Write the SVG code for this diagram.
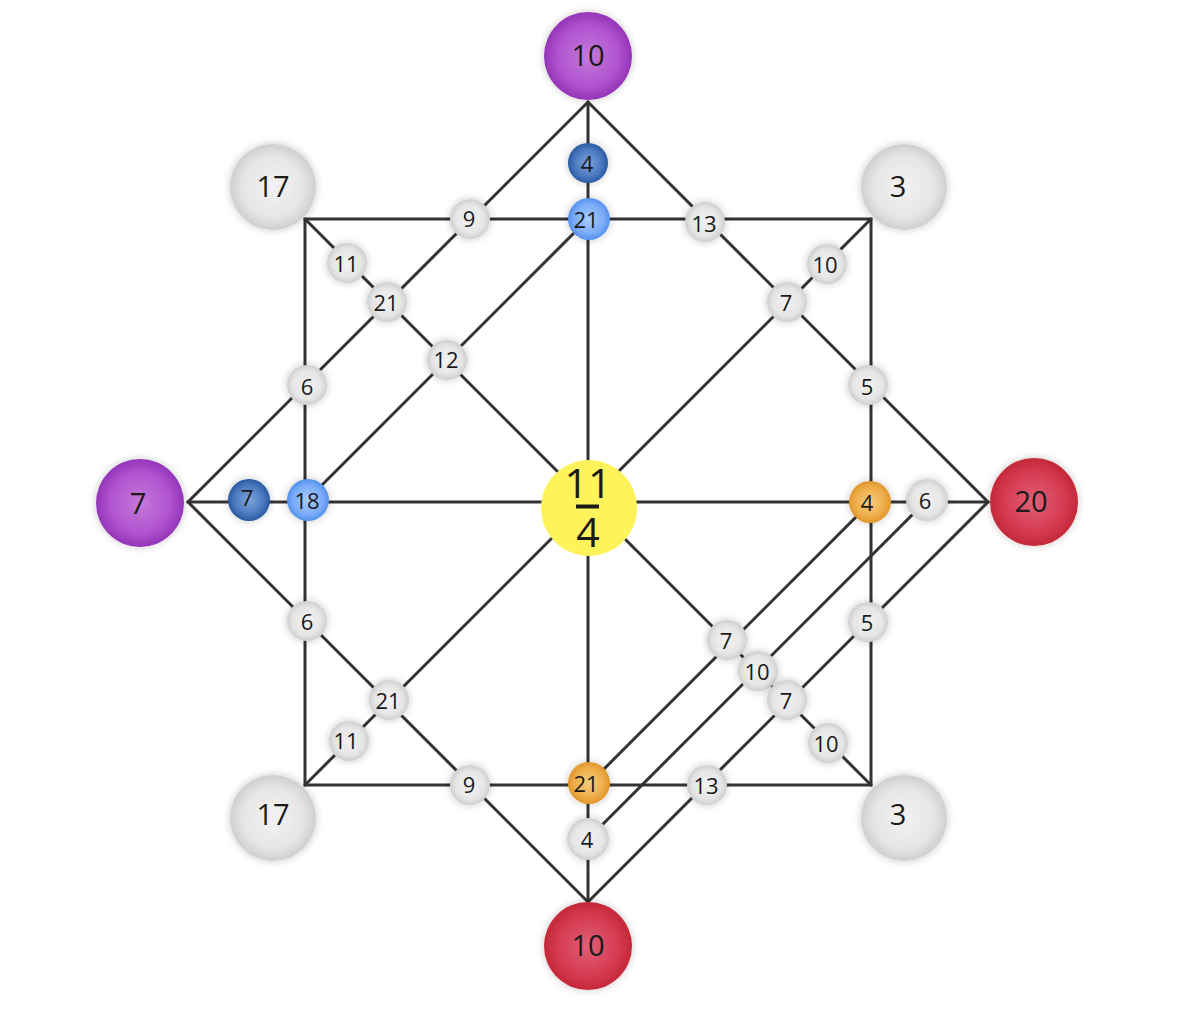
<svg xmlns="http://www.w3.org/2000/svg" width="1200" height="1035" viewBox="0 0 1200 1035">
<defs>
<radialGradient id="gGray" cx="50%" cy="50%" r="50%"><stop offset="0" stop-color="#f2f2f2"/><stop offset="0.7" stop-color="#e6e6e6"/><stop offset="1" stop-color="#cfcfcf"/></radialGradient>
<radialGradient id="gPurple" cx="50%" cy="50%" r="50%"><stop offset="0" stop-color="#c37ad9"/><stop offset="0.7" stop-color="#b052d0"/><stop offset="1" stop-color="#9434b8"/></radialGradient>
<radialGradient id="gRed" cx="50%" cy="50%" r="50%"><stop offset="0" stop-color="#e06078"/><stop offset="0.7" stop-color="#d53a50"/><stop offset="1" stop-color="#c42838"/></radialGradient>
<radialGradient id="gDark" cx="50%" cy="50%" r="50%"><stop offset="0" stop-color="#7ea4d8"/><stop offset="0.7" stop-color="#4a78c0"/><stop offset="1" stop-color="#2a5aa0"/></radialGradient>
<radialGradient id="gLight" cx="50%" cy="50%" r="50%"><stop offset="0" stop-color="#a8ccff"/><stop offset="0.7" stop-color="#7aacf8"/><stop offset="1" stop-color="#5590ec"/></radialGradient>
<radialGradient id="gOrange" cx="50%" cy="50%" r="50%"><stop offset="0" stop-color="#f6cc80"/><stop offset="0.7" stop-color="#eead48"/><stop offset="1" stop-color="#e0962c"/></radialGradient>
<filter id="sh" x="-40%" y="-40%" width="180%" height="180%"><feGaussianBlur in="SourceAlpha" stdDeviation="4"/><feComponentTransfer><feFuncA type="linear" slope="0.22"/></feComponentTransfer><feMerge><feMergeNode/><feMergeNode in="SourceGraphic"/></feMerge></filter>
</defs>
<style>
.e{stroke:#333;stroke-width:3;fill:none;stroke-linecap:round}
.n circle{filter:url(#sh)}
.t{font-family:"Open Sans","Noto Sans","DejaVu Sans",sans-serif;fill:#1a1a1a;text-anchor:middle;dominant-baseline:central}
.s{font-size:22px}
.b{font-size:29px}
.f{font-family:"Open Sans","Noto Sans","DejaVu Sans",sans-serif;fill:#1a1a1a;text-anchor:middle;font-size:41px}
.gray{fill:url(#gGray)}.purple{fill:url(#gPurple)}.red{fill:url(#gRed)}.dark{fill:url(#gDark)}.light{fill:url(#gLight)}.orange{fill:url(#gOrange)}
</style>
<rect width="1200" height="1035" fill="#ffffff"/>
<g id="connectors">
<path class="e" d="M305 219H871V785H305Z"/>
<path class="e" d="M588 102L988 502L588 902L188 502Z"/>
<line class="e" x1="188" y1="502" x2="988" y2="502"/>
<line class="e" x1="588" y1="102" x2="588" y2="902"/>
<line class="e" x1="305" y1="219" x2="871" y2="785"/>
<line class="e" x1="871" y1="219" x2="305" y2="785"/>
<line class="e" x1="588" y1="219" x2="305" y2="502"/>
<line class="e" x1="871" y1="502" x2="588" y2="785"/>
<line class="e" x1="925" y1="502" x2="588" y2="839"/>
</g>
<g id="n-center"><circle cx="589" cy="508" r="48" fill="#fff35c"/><text class="f" x="588" y="498">11</text><rect x="576" y="504.5" width="23" height="4" fill="#1a1a1a"/><text class="f" x="588" y="547">4</text></g>
<g id="n-top" class="n"><circle cx="588" cy="56" r="44" class="purple"/><text class="t b" x="588" y="54">10</text></g>
<g id="n-left" class="n"><circle cx="140" cy="503" r="44" class="purple"/><text class="t b" x="138" y="502">7</text></g>
<g id="n-right" class="n"><circle cx="1034" cy="502" r="44" class="red"/><text class="t b" x="1031" y="500">20</text></g>
<g id="n-bottom" class="n"><circle cx="588" cy="946" r="44" class="red"/><text class="t b" x="588" y="944">10</text></g>
<g id="n-c1" class="n"><circle cx="273" cy="187" r="43" class="gray"/><text class="t b" x="273" y="185">17</text></g>
<g id="n-c2" class="n"><circle cx="904" cy="187" r="43" class="gray"/><text class="t b" x="898" y="185">3</text></g>
<g id="n-c3" class="n"><circle cx="273" cy="818" r="43" class="gray"/><text class="t b" x="273" y="813">17</text></g>
<g id="n-c4" class="n"><circle cx="904" cy="818" r="43" class="gray"/><text class="t b" x="898" y="813">3</text></g>
<g id="n1" class="n"><circle cx="588" cy="163" r="20" class="dark"/><text class="t s" x="587" y="163">4</text></g>
<g id="n2" class="n"><circle cx="589" cy="219" r="21" class="light"/><text class="t s" x="586" y="219">21</text></g>
<g id="n3" class="n"><circle cx="470" cy="219" r="20" class="gray"/><text class="t s" x="469" y="218">9</text></g>
<g id="n4" class="n"><circle cx="705" cy="222" r="20" class="gray"/><text class="t s" x="704" y="223">13</text></g>
<g id="n5" class="n"><circle cx="347" cy="263" r="20" class="gray"/><text class="t s" x="346" y="263">11</text></g>
<g id="n6" class="n"><circle cx="387" cy="302" r="20" class="gray"/><text class="t s" x="386" y="302">21</text></g>
<g id="n7" class="n"><circle cx="827" cy="264" r="20" class="gray"/><text class="t s" x="825" y="264">10</text></g>
<g id="n8" class="n"><circle cx="787" cy="302" r="20" class="gray"/><text class="t s" x="786" y="302">7</text></g>
<g id="n9" class="n"><circle cx="447" cy="360" r="20" class="gray"/><text class="t s" x="446" y="359">12</text></g>
<g id="n10" class="n"><circle cx="307" cy="385" r="20" class="gray"/><text class="t s" x="307" y="386">6</text></g>
<g id="n11" class="n"><circle cx="868" cy="385" r="20" class="gray"/><text class="t s" x="867" y="386">5</text></g>
<g id="n12" class="n"><circle cx="249" cy="500" r="21" class="dark"/><text class="t s" x="247" y="497">7</text></g>
<g id="n13" class="n"><circle cx="308" cy="500" r="21" class="light"/><text class="t s" x="307" y="500">18</text></g>
<g id="n14" class="n"><circle cx="870" cy="502" r="21" class="orange"/><text class="t s" x="867" y="502">4</text></g>
<g id="n15" class="n"><circle cx="927" cy="500" r="21" class="gray"/><text class="t s" x="925" y="500">6</text></g>
<g id="n16" class="n"><circle cx="307" cy="621" r="20" class="gray"/><text class="t s" x="307" y="621">6</text></g>
<g id="n17" class="n"><circle cx="727" cy="640" r="20" class="gray"/><text class="t s" x="726" y="640">7</text></g>
<g id="n18" class="n"><circle cx="868" cy="622" r="20" class="gray"/><text class="t s" x="867" y="622">5</text></g>
<g id="n19" class="n"><circle cx="758" cy="671" r="20" class="gray"/><text class="t s" x="757" y="671">10</text></g>
<g id="n20" class="n"><circle cx="787" cy="700" r="20" class="gray"/><text class="t s" x="786" y="700">7</text></g>
<g id="n21" class="n"><circle cx="389" cy="700" r="20" class="gray"/><text class="t s" x="388" y="700">21</text></g>
<g id="n22" class="n"><circle cx="349" cy="741" r="20" class="gray"/><text class="t s" x="346" y="740">11</text></g>
<g id="n23" class="n"><circle cx="828" cy="743" r="20" class="gray"/><text class="t s" x="826" y="743">10</text></g>
<g id="n24" class="n"><circle cx="470" cy="785" r="20" class="gray"/><text class="t s" x="469" y="784">9</text></g>
<g id="n25" class="n"><circle cx="589" cy="783" r="21" class="orange"/><text class="t s" x="586" y="783">21</text></g>
<g id="n26" class="n"><circle cx="707" cy="785" r="20" class="gray"/><text class="t s" x="706" y="785">13</text></g>
<g id="n27" class="n"><circle cx="588" cy="839" r="21" class="gray"/><text class="t s" x="587" y="839">4</text></g>
</svg>
